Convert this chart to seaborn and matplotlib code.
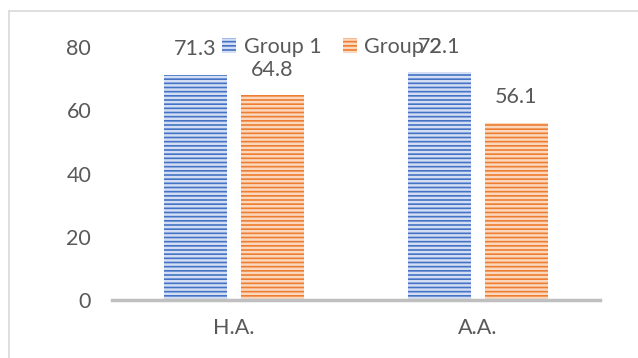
import matplotlib
matplotlib.use("Agg")
import matplotlib.pyplot as plt
from matplotlib.patches import Patch
from matplotlib.lines import Line2D
import seaborn as sns
import pandas as pd

categories = ["H.A.", "A.A."]
groups = ["Group 1", "Group 2"]
group1_values = [71.3, 72.1]
group2_values = [64.8, 56.1]
y_ticks = [0, 20, 40, 60, 80]

bar_colors = ["#4472C4", "#ED7D31"]
stripe_colors = ["#d3ddf3", "#fbd7bd"]
text_color = "#595959"

df = pd.DataFrame({
    "category": categories * 2,
    "group": [groups[0]] * 2 + [groups[1]] * 2,
    "value": group1_values + group2_values,
})

sns.set_style("white")
plt.rcParams["font.family"] = ["Lato", "DejaVu Sans"]
plt.rcParams["hatch.linewidth"] = 1.8

fig = plt.figure(figsize=(6.38, 3.58), dpi=100)
ax = fig.add_axes([112 / 638, 1 - 300 / 358, 488 / 638, 253 / 358])

sns.barplot(data=df, x="category", y="value", hue="group", palette=bar_colors,
            width=0.63, gap=0.18, ax=ax, legend=False, saturation=1)

for cont, stripe in zip(ax.containers, stripe_colors):
    for bar in cont:
        bar.set_hatch("----")
        bar.set_edgecolor(stripe)
        bar.set_linewidth(0)
    ax.bar_label(cont, fmt="%.1f", padding=11, fontsize=15.5, color=text_color)

ax.set_ylim(0, 80)
ax.set_yticks(y_ticks)
ax.set_xlabel("")
ax.set_ylabel("")
for side in ["top", "right", "left"]:
    ax.spines[side].set_visible(False)
ax.spines["bottom"].set_color("#bfbfbf")
ax.spines["bottom"].set_linewidth(2.5)
ax.tick_params(axis="both", length=0, labelsize=15.5, labelcolor=text_color)
ax.tick_params(axis="y", pad=15)
ax.tick_params(axis="x", pad=13)

handles = [Patch(facecolor=c, edgecolor=s, hatch="----", linewidth=0)
           for c, s in zip(bar_colors, stripe_colors)]
fig.legend(handles, groups, loc="center", bbox_to_anchor=(332 / 638, 1 - 47 / 358),
           ncol=2, frameon=False, fontsize=15.5, labelcolor=text_color,
           handlelength=0.65, handleheight=0.65, handletextpad=0.35,
           columnspacing=1.0)

# chart area border (top and left edges)
fig.add_artist(Line2D([9 / 638, 1], [1 - 11 / 358] * 2, color="#d9d9d9", lw=1.2,
                      transform=fig.transFigure))
fig.add_artist(Line2D([9 / 638] * 2, [0, 1 - 11 / 358], color="#d9d9d9", lw=1.2,
                      transform=fig.transFigure))

fig.savefig("out.png", dpi=100)
